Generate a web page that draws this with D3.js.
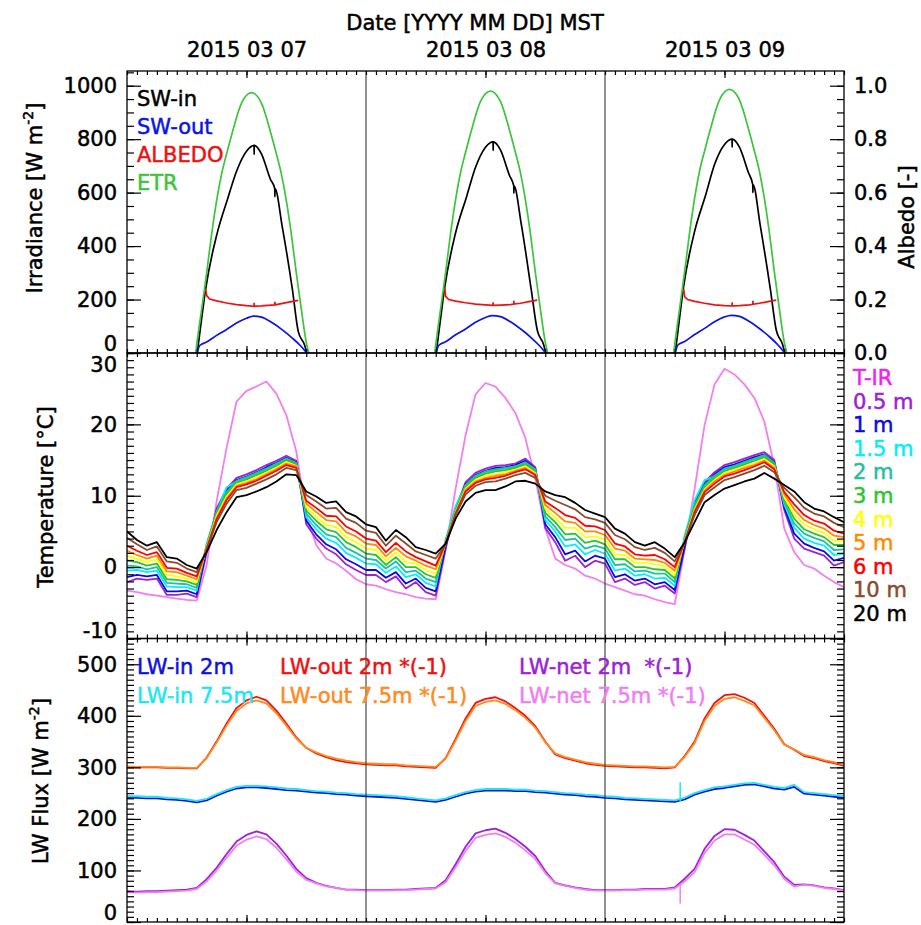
<!DOCTYPE html>
<html>
<head>
<meta charset="utf-8">
<script src="https://cdn.jsdelivr.net/npm/d3@7"></script>
<style>
body { margin: 0; background: #fff; }
svg text { font-family: "DejaVu Sans", sans-serif; font-size: 21px; fill: #000; stroke: #000; stroke-width: 0.5px; }
</style>
</head>
<body>
<div id="chart"></div>
<script>

// ---------- data ----------
let hours = d3.range(0, 73);   // hourly samples, 2015-03-07 00:00 .. 2015-03-10 00:00 MST
let dateLabels = ['2015 03 07', '2015 03 08', '2015 03 09'];

// shortwave (hours of day, one array of values per day)
let etrHours = [6.9, 7.05, 7.5, 8.0, 8.5, 9.0, 9.5, 10.0, 10.5, 11.5, 12.5, 13.5, 14.5, 15.0, 15.5, 16.0, 16.5, 17.0, 17.5, 18.0, 18.25];
let etrDay1 = [0, 45, 165, 300, 445, 570, 670, 745, 815, 935, 974, 935, 815, 745, 670, 570, 445, 300, 165, 40, 0];
let etrDay2 = [0, 45, 167, 303, 449, 575, 676, 751, 821, 941, 980, 941, 821, 751, 676, 575, 449, 303, 167, 41, 0];
let etrDay3 = [0, 46, 168, 305, 452, 579, 681, 756, 826, 947, 986, 947, 826, 756, 681, 579, 452, 305, 168, 41, 0];

let swInHours = [7.05, 7.5, 7.9, 9, 10.1, 11, 12, 12.76, 12.77, 12.78, 13.5, 14.4, 14.84, 14.85, 14.86, 15.6, 16.6, 17.2, 17.85, 18.05];
let swInDay1 = [0, 130, 240, 440, 576, 680, 755, 777, 743, 777, 745, 650, 615, 585, 615, 470, 240, 80, 28, 0];
let swInDay2 = [0, 132, 245, 450, 585, 695, 770, 790, 758, 790, 760, 665, 625, 598, 625, 480, 235, 85, 30, 0];
let swInDay3 = [0, 135, 250, 455, 590, 705, 780, 800, 770, 800, 770, 675, 630, 600, 630, 475, 240, 85, 30, 0];

let swOutHours = [7.05, 7.3, 8, 9, 10, 11, 12, 12.7, 13.5, 14.5, 15.7, 16.6, 17.4, 18.05];
let swOutDay1 = [0, 28, 41, 66, 88, 112, 130, 138, 134, 115, 84, 56, 28, 0];
let swOutDay2 = [0, 28, 42, 68, 90, 115, 133, 140, 136, 117, 85, 57, 28, 0];
let swOutDay3 = [0, 29, 43, 69, 92, 117, 135, 141, 137, 118, 86, 58, 29, 0];

let albHours = [7.9, 8.0, 8.3, 9, 10, 11, 12, 12.76, 12.77, 12.78, 13.5, 14.5, 14.84, 14.85, 14.86, 15.5, 16.5, 17.2];
let albDay1 = [0.24, 0.215, 0.202, 0.195, 0.187, 0.181, 0.177, 0.175, 0.188, 0.175, 0.176, 0.179, 0.18, 0.192, 0.18, 0.185, 0.192, 0.197];
let albDay2 = [0.245, 0.212, 0.2, 0.194, 0.188, 0.183, 0.18, 0.178, 0.19, 0.178, 0.179, 0.181, 0.183, 0.195, 0.183, 0.186, 0.193, 0.198];
let albDay3 = [0.24, 0.21, 0.2, 0.193, 0.186, 0.18, 0.177, 0.176, 0.19, 0.176, 0.177, 0.18, 0.182, 0.195, 0.182, 0.186, 0.193, 0.198];

// temperatures [C], hourly
let tIR = [-3.3, -3.5, -3.8, -4.0, -4.2, -4.4, -4.6, -4.7, 0.3, 9.2, 16.7, 23.2, 24.7, 25.3, 26.0, 24.3, 21.3, 16.2, 7.3, 3.1, 1.2, 0.5, -0.5, -1.7,
  -2.4, -2.6, -3.1, -3.5, -3.8, -4.2, -4.4, -4.5, 2.5, 11.0, 18.5, 24.2, 25.8, 25.3, 23.7, 21.6, 18.1, 12.4, 5.4, 1.2, 0.3, -0.2, -1.2, -1.6,
  -2.3, -2.8, -3.3, -3.8, -4.0, -4.5, -4.9, -5.2, 2.5, 11.0, 19.9, 25.6, 27.8, 27.0, 25.6, 23.7, 20.4, 14.2, 5.4, 2.1, 0.3, -0.2, -1.2, -2.1, -2.8];
let t05 = [-2.1, -1.6, -1.8, -1.6, -3.9, -3.9, -3.7, -4.2, 2.0, 8.2, 11.0, 12.5, 13.0, 13.6, 14.3, 14.9, 15.6, 14.9, 6.0, 4.0, 2.6, 1.8, 0.4, -0.4,
  -1.1, -1.1, -2.1, -1.3, -3.0, -2.1, -3.5, -4.0, 2.6, 8.2, 11.9, 13.2, 13.8, 14.2, 14.3, 14.5, 15.2, 14.0, 5.5, 3.5, 0.9, 1.6, 0.0, 0.9,
  0.5, -2.1, -1.6, -2.5, -2.1, -3.0, -2.6, -3.7, 2.6, 9.1, 11.9, 13.3, 14.3, 14.7, 15.2, 15.7, 16.1, 15.0, 8.0, 4.0, 2.6, 2.1, 1.6, 0.2, 0.7];
let t1 = [-1.4, -1.1, -1.3, -1.1, -3.4, -3.4, -3.3, -3.8, 2.5, 7.9, 10.7, 12.2, 12.7, 13.3, 14.0, 14.6, 15.3, 14.7, 6.5, 4.6, 3.2, 2.5, 1.1, 0.4,
  -0.4, -0.4, -1.5, -0.7, -2.3, -1.6, -2.9, -3.4, 3.0, 8.1, 11.6, 12.9, 13.5, 13.9, 14.0, 14.3, 14.9, 13.8, 6.0, 4.2, 1.8, 2.3, 0.8, 1.6,
  1.2, -1.4, -1.0, -1.9, -1.6, -2.4, -2.1, -3.2, 3.0, 8.8, 11.6, 13.0, 14.0, 14.4, 14.9, 15.4, 15.8, 14.7, 8.4, 4.7, 3.3, 2.7, 2.2, 0.9, 1.3];
let t15 = [-0.5, -0.4, -0.7, -0.5, -2.7, -2.8, -2.8, -3.3, 3.3, 7.7, 11.2, 12.0, 12.5, 13.1, 13.7, 14.4, 15.1, 14.5, 7.0, 5.3, 4.0, 3.4, 2.0, 1.3,
  0.5, 0.4, -0.8, 0.1, -1.4, -1.0, -2.2, -2.7, 3.9, 8.6, 11.4, 12.7, 13.3, 13.6, 13.8, 14.1, 14.6, 13.6, 6.6, 5.0, 2.9, 3.2, 1.8, 2.4,
  1.9, -0.5, -0.2, -1.2, -1.0, -1.6, -1.5, -2.6, 4.4, 9.4, 12.2, 12.7, 13.7, 14.1, 14.6, 15.1, 15.6, 14.5, 8.8, 5.5, 4.0, 3.4, 3.0, 1.7, 1.9];
let t2 = [0.2, 0.1, -0.3, 0.0, -2.2, -2.3, -2.4, -2.9, 3.1, 7.8, 10.5, 12.1, 12.6, 13.2, 13.8, 14.5, 15.2, 14.6, 7.5, 5.9, 4.6, 4.2, 2.7, 2.0,
  1.2, 1.0, -0.2, 0.8, -0.7, -0.5, -1.6, -2.1, 3.7, 8.0, 11.5, 12.8, 13.4, 13.7, 13.9, 14.1, 14.7, 13.7, 7.1, 5.6, 3.8, 4.0, 2.6, 3.0,
  2.6, 0.3, 0.4, -0.6, -0.5, -0.9, -0.9, -2.1, 4.1, 8.7, 11.5, 12.8, 13.8, 14.2, 14.7, 15.2, 15.7, 14.6, 9.1, 6.1, 4.7, 4.1, 3.6, 2.4, 2.5];
let t3 = [0.9, 0.7, 0.2, 0.5, -1.7, -1.8, -2.0, -2.5, 2.9, 7.5, 10.2, 11.8, 12.3, 12.9, 13.5, 14.2, 15.0, 14.4, 7.9, 6.5, 5.3, 4.9, 3.5, 2.8,
  1.9, 1.7, 0.3, 1.4, 0.0, 0.0, -1.0, -1.5, 3.5, 7.9, 11.2, 12.5, 13.1, 13.4, 13.6, 13.9, 14.4, 13.4, 7.6, 6.3, 4.6, 4.7, 3.4, 3.7,
  3.2, 1.1, 1.1, 0.0, 0.0, -0.3, -0.4, -1.6, 3.8, 8.4, 11.2, 12.5, 13.5, 13.9, 14.4, 14.9, 15.4, 14.4, 9.5, 6.8, 5.3, 4.7, 4.2, 3.1, 3.1];
let t4 = [1.6, 1.2, 0.7, 1.1, -1.1, -1.3, -1.6, -2.1, 2.8, 7.2, 9.9, 11.6, 12.0, 12.6, 13.2, 13.9, 14.7, 14.2, 8.4, 7.1, 5.9, 5.6, 4.2, 3.5,
  2.6, 2.4, 0.9, 2.1, 0.7, 0.5, -0.4, -0.9, 3.4, 7.7, 11.0, 12.2, 12.8, 13.0, 13.3, 13.6, 14.1, 13.2, 8.2, 6.9, 5.5, 5.5, 4.2, 4.3,
  3.9, 1.8, 1.7, 0.6, 0.6, 0.4, 0.1, -1.1, 3.7, 8.1, 10.9, 12.2, 13.1, 13.6, 14.1, 14.5, 15.1, 14.1, 9.8, 7.4, 6.0, 5.3, 4.8, 3.7, 3.6];
let t5 = [2.3, 1.7, 1.2, 1.6, -0.6, -0.7, -1.2, -1.7, 2.7, 6.9, 9.6, 11.4, 11.8, 12.3, 13.0, 13.7, 14.5, 14.1, 8.9, 7.7, 6.6, 6.4, 4.9, 4.3,
  3.3, 3.1, 1.5, 2.7, 1.5, 0.9, 0.2, -0.3, 3.4, 7.6, 10.8, 12.0, 12.5, 12.8, 13.0, 13.5, 13.9, 13.0, 8.7, 7.6, 6.4, 6.2, 5.0, 5.0,
  4.5, 2.6, 2.3, 1.2, 1.1, 1.0, 0.6, -0.5, 3.6, 7.9, 10.7, 12.0, 12.9, 13.4, 13.9, 14.3, 14.9, 13.9, 10.2, 8.1, 6.6, 5.9, 5.4, 4.4, 4.2];
let t6 = [3.0, 2.3, 1.7, 2.1, -0.1, -0.2, -0.8, -1.3, 2.6, 6.7, 9.4, 11.2, 11.6, 12.1, 12.8, 13.5, 14.3, 13.9, 9.3, 8.3, 7.2, 7.1, 5.7, 5.0,
  4.0, 3.7, 2.1, 3.4, 2.2, 1.4, 0.8, 0.2, 3.3, 7.5, 10.6, 11.8, 12.3, 12.5, 12.8, 13.3, 13.7, 12.9, 9.2, 8.3, 7.3, 6.9, 5.8, 5.7,
  5.2, 3.3, 2.9, 1.8, 1.6, 1.7, 1.1, 0.0, 3.5, 7.7, 10.5, 11.7, 12.7, 13.1, 13.6, 14.1, 14.7, 13.7, 10.5, 8.8, 7.3, 6.5, 6.1, 5.1, 4.7];
let t10 = [4.1, 3.2, 2.4, 2.9, 0.8, 0.6, -0.2, -0.7, 2.4, 6.3, 8.9, 10.8, 11.1, 11.7, 12.3, 13.0, 13.9, 13.6, 10.1, 9.2, 8.2, 8.3, 6.8, 6.2,
  5.1, 4.8, 3.0, 4.4, 3.3, 2.2, 1.7, 1.2, 3.2, 7.3, 10.2, 11.4, 11.9, 12.0, 12.4, 12.9, 13.2, 12.5, 10.0, 9.3, 8.7, 8.1, 7.0, 6.7,
  6.2, 4.5, 3.9, 2.8, 2.4, 2.7, 2.0, 0.8, 3.4, 7.3, 10.1, 11.2, 12.2, 12.6, 13.1, 13.6, 14.2, 13.3, 11.1, 9.8, 8.3, 7.5, 7.1, 6.2, 5.6];
let t20 = [5.0, 3.8, 3.0, 3.5, 1.4, 1.2, 0.3, -0.2, 2.1, 5.2, 7.7, 9.8, 10.1, 10.6, 11.2, 12.0, 13.0, 12.9, 10.6, 9.9, 9.0, 9.2, 7.7, 7.1,
  6.0, 5.6, 3.7, 5.2, 4.2, 2.8, 2.4, 1.9, 3.3, 6.8, 9.2, 10.4, 10.8, 10.8, 11.3, 12.0, 12.1, 11.7, 10.6, 10.1, 9.8, 9.0, 8.0, 7.5,
  7.0, 5.4, 4.7, 3.5, 3.0, 3.5, 2.6, 1.4, 3.5, 6.3, 9.1, 10.1, 11.0, 11.5, 12.0, 12.4, 13.2, 12.4, 11.5, 10.6, 9.1, 8.2, 7.8, 7.0, 6.3];

// longwave [W m-2], hourly (outgoing and net shown *(-1))
let lwIn2 = [241, 241, 240, 240, 238, 237, 235, 232, 236, 245, 253, 259, 261, 261, 260, 258, 256, 255, 253, 251, 250, 248, 247, 245,
  244, 243, 242, 241, 239, 237, 235, 233, 237, 243, 249, 253, 255, 255, 255, 254, 254, 252, 251, 249, 247, 246, 244, 243,
  241, 240, 238, 237, 236, 235, 234, 233, 238, 247, 253, 258, 260, 263, 266, 267, 263, 259, 257, 262, 249, 247, 245, 243, 241];
let lwIn75 = [244, 244, 243, 243, 241, 240, 238, 235, 239, 248, 256, 262, 264, 264, 263, 261, 259, 258, 256, 254, 253, 251, 250, 248,
  247, 246, 245, 244, 242, 240, 238, 236, 240, 246, 252, 256, 258, 258, 258, 257, 257, 255, 254, 252, 250, 249, 247, 246,
  244, 243, 241, 240, 239, 238, 237, 236, 241, 250, 256, 261, 263, 266, 269, 270, 266, 262, 260, 266, 252, 250, 248, 246, 244];
let lwOut2 = [301, 300, 300, 300, 299, 299, 298, 298, 319, 350, 385, 415, 430, 437, 430, 410, 385, 358, 338, 327, 320, 314, 310, 308,
  306, 305, 304, 304, 302, 301, 300, 299, 318, 355, 395, 425, 433, 436, 428, 415, 400, 380, 350, 325, 318, 313, 308, 305,
  303, 302, 301, 300, 300, 299, 298, 300, 322, 350, 395, 425, 440, 442, 435, 425, 400, 375, 345, 334, 322, 318, 312, 308, 303];
let lwOut75 = [302, 301, 301, 301, 300, 300, 299, 299, 318, 348, 381, 410, 424, 430, 424, 405, 381, 356, 338, 329, 322, 317, 313, 310,
  308, 307, 306, 306, 304, 303, 302, 301, 317, 352, 390, 419, 427, 430, 423, 411, 396, 377, 349, 327, 320, 315, 310, 307,
  305, 304, 303, 302, 302, 301, 300, 301, 320, 347, 390, 419, 433, 436, 429, 420, 396, 372, 344, 335, 324, 320, 314, 310, 305];
let lwNet2 = [60, 59, 60, 60, 61, 62, 63, 66, 83, 105, 132, 156, 169, 176, 170, 152, 129, 103, 85, 76, 70, 66, 63, 63,
  62, 62, 62, 63, 63, 64, 65, 66, 81, 112, 146, 172, 178, 181, 173, 161, 146, 128, 99, 76, 71, 67, 64, 62,
  62, 62, 63, 63, 64, 64, 64, 67, 84, 103, 142, 167, 180, 179, 169, 158, 137, 116, 88, 72, 73, 71, 67, 65, 62];
let lwNet75 = [58, 57, 58, 58, 59, 60, 61, 64, 79, 100, 125, 148, 160, 166, 161, 144, 122, 98, 82, 75, 69, 66, 63, 62,
  61, 61, 61, 62, 62, 63, 64, 65, 77, 106, 138, 163, 169, 172, 165, 154, 139, 122, 95, 75, 70, 66, 63, 61,
  61, 61, 62, 62, 63, 63, 63, 65, 79, 97, 134, 158, 170, 170, 160, 150, 130, 110, 84, 69, 72, 70, 66, 64, 61];
// single-sample spike in the 7.5 m sensors on 03 09 morning
let spikeHour = 55.55;
let spikeLwIn = [233, 271];
let spikeLwNet = [74, 36];

// ---------- layout ----------
let W = 921, H = 925;
let left = 127, right = 844;
let tops = [71, 353, 638.5];
let bottoms = [353, 638.5, 922];

let svg = d3.select('#chart').append('svg')
  .attr('width', W)
  .attr('height', H);

let x = d3.scaleLinear().domain([0, 72]).range([left, right]);
let ySw = d3.scaleLinear().domain([0, 1055]).range([353, 71]);
let yAlb = d3.scaleLinear().domain([0, 1.055]).range([353, 71]);
let yT = d3.scaleLinear().domain([-10, 30]).range([638.5, 353]);
let yLw = d3.scaleLinear().domain([0, 550]).range([922, 638.5]);

// clip paths per panel
let defs = svg.append('defs');
tops.forEach(function(t, i) {
  defs.append('clipPath').attr('id', 'clip' + i)
    .append('rect')
    .attr('x', left).attr('y', t)
    .attr('width', right - left).attr('height', bottoms[i] - t);
});

// ---------- data lines ----------
function plotDay(g, hrs, vals, day, scale, color, curve) {
  let pts = hrs.map(function(h, i) { return [h + 24 * day, vals[i]]; });
  g.append('path')
    .datum(pts)
    .attr('fill', 'none')
    .attr('stroke', color)
    .attr('stroke-width', 1.7)
    .attr('d', d3.line()
      .curve(curve)
      .x(function(d) { return x(d[0]); })
      .y(function(d) { return scale(d[1]); }));
}

function plotHourly(g, vals, scale, color) {
  g.append('path')
    .datum(vals)
    .attr('fill', 'none')
    .attr('stroke', color)
    .attr('stroke-width', 1.8)
    .attr('stroke-linejoin', 'round')
    .attr('d', d3.line()
      .x(function(d, i) { return x(hours[i]); })
      .y(function(d) { return scale(d); }));
}

// top panel
let swGroup = svg.append('g').attr('clip-path', 'url(#clip0)');
[swInDay1, swInDay2, swInDay3].forEach(function(v, d) { plotDay(swGroup, swInHours, v, d, ySw, '#000000', d3.curveMonotoneX); });
[swOutDay1, swOutDay2, swOutDay3].forEach(function(v, d) { plotDay(swGroup, swOutHours, v, d, ySw, '#0a14e6', d3.curveMonotoneX); });
[albDay1, albDay2, albDay3].forEach(function(v, d) { plotDay(swGroup, albHours, v, d, yAlb, '#ee1111', d3.curveLinear); });
[etrDay1, etrDay2, etrDay3].forEach(function(v, d) { plotDay(swGroup, etrHours, v, d, ySw, '#3cc43c', d3.curveMonotoneX); });

// middle panel
let tSeries = [tIR, t05, t1, t15, t2, t3, t4, t5, t6, t10, t20];
let tLineColors = ['#f27ef0', '#9b22d6', '#0a0ae0', '#00f0f8', '#1ec0a0', '#2ec42e', '#ffff00', '#ff8a00', '#ff0000', '#8b4c2c', '#000000'];
let tTextColors = ['#ee22ee', '#9b22d6', '#0a0ae0', '#00f0f8', '#1ec0a0', '#2ec42e', '#ffff00', '#ff8a00', '#ff0000', '#8b4c2c', '#000000'];
let tLabels = ['T-IR', '0.5 m', '1 m', '1.5 m', '2 m', '3 m', '4 m', '5 m', '6 m', '10 m', '20 m'];
let tGroup = svg.append('g').attr('clip-path', 'url(#clip1)');
tSeries.forEach(function(s, i) { plotHourly(tGroup, s, yT, tLineColors[i]); });

// bottom panel
let lwSeries = [lwIn2, lwIn75, lwOut2, lwOut75, lwNet2, lwNet75];
let lwColors = ['#1010dd', '#1ee6f0', '#ee1111', '#ff8a1e', '#9b22d6', '#f07ef0'];
let lwLabels = ['LW-in 2m', 'LW-in 7.5m', 'LW-out 2m *(-1)', 'LW-out 7.5m *(-1)', 'LW-net 2m  *(-1)', 'LW-net 7.5m *(-1)'];
let lwGroup = svg.append('g').attr('clip-path', 'url(#clip2)');
lwSeries.forEach(function(s, i) { plotHourly(lwGroup, s, yLw, lwColors[i]); });
[[spikeLwIn, lwColors[1]], [spikeLwNet, lwColors[5]]].forEach(function(p) {
  lwGroup.append('line')
    .attr('x1', x(spikeHour)).attr('x2', x(spikeHour))
    .attr('y1', yLw(p[0][0])).attr('y2', yLw(p[0][1]))
    .attr('stroke', p[1]).attr('stroke-width', 1.5);
});

// ---------- frames and axes ----------
let hourTicks = d3.range(0, 73);
let noonTicks = [12, 36, 60];

// midnight separators through all panels
svg.selectAll('.daysep')
  .data([24, 48])
  .enter()
  .append('line')
    .attr('x1', function(d) { return x(d); })
    .attr('x2', function(d) { return x(d); })
    .attr('y1', tops[0])
    .attr('y2', bottoms[2])
    .attr('stroke', '#222')
    .attr('stroke-width', 1);

function tickOnly(g) {
  g.select('.domain').remove();
  g.selectAll('line').attr('stroke-width', 1.2);
}

tops.forEach(function(t, i) {
  let b = bottoms[i];
  // frame
  svg.append('rect')
    .attr('x', left).attr('y', t)
    .attr('width', right - left).attr('height', b - t)
    .attr('fill', 'none').attr('stroke', '#000').attr('stroke-width', 1.3);
  // x ticks, top (pointing down) and bottom (pointing up)
  svg.append('g').attr('transform', 'translate(0,' + t + ')')
    .call(d3.axisBottom(x).tickValues(hourTicks).tickSize(4).tickFormat('')).call(tickOnly);
  svg.append('g').attr('transform', 'translate(0,' + t + ')')
    .call(d3.axisBottom(x).tickValues(noonTicks).tickSize(7).tickFormat('')).call(tickOnly);
  svg.append('g').attr('transform', 'translate(0,' + b + ')')
    .call(d3.axisTop(x).tickValues(hourTicks).tickSize(4).tickFormat('')).call(tickOnly);
  svg.append('g').attr('transform', 'translate(0,' + b + ')')
    .call(d3.axisTop(x).tickValues(noonTicks).tickSize(7).tickFormat('')).call(tickOnly);
});

// date labels above the top panel
svg.append('g').attr('transform', 'translate(0,' + tops[0] + ')')
  .call(d3.axisTop(x).tickValues(noonTicks).tickSize(0).tickPadding(14)
    .tickFormat(function(d, i) { return dateLabels[i]; }))
  .call(function(g) { g.select('.domain').remove(); });

// y axes: minor ticks, major ticks with labels (left), mirrored ticks (right)
function yAxis(scale, major, minor, fmt, side, showLabels, shifts) {
  let xPos = side === 'left' ? left : right;
  let make = side === 'left' ? d3.axisLeft : d3.axisRight;
  svg.append('g').attr('transform', 'translate(' + xPos + ',0)')
    .call(make(scale).tickValues(minor).tickSize(-7).tickFormat('')).call(tickOnly);
  let g = svg.append('g').attr('transform', 'translate(' + xPos + ',0)')
    .call(make(scale).tickValues(major).tickSize(-14).tickPadding(10)
      .tickFormat(showLabels ? fmt : ''))
    .call(tickOnly);
  if (shifts) {
    g.selectAll('text').attr('y', function(d) { return shifts[d] || 0; });
  }
}

let intFmt = function(d) { return String(d); };
yAxis(ySw, d3.range(0, 1001, 200), d3.range(0, 1051, 50), intFmt, 'left', true, {0: -9});
yAxis(yAlb, [0, 0.2, 0.4, 0.6, 0.8, 1.0], d3.range(0, 21).map(function(i) { return i * 0.05; }), d3.format('.1f'), 'right', true, null);
yAxis(yT, d3.range(-10, 31, 10), d3.range(-10, 31, 1), intFmt, 'left', true, {'30': 12, '-10': -8});
yAxis(yT, d3.range(-10, 31, 10), d3.range(-10, 31, 1), intFmt, 'right', false, null);
yAxis(yLw, d3.range(0, 501, 100), d3.range(0, 551, 10), intFmt, 'left', true, {0: -9});
yAxis(yLw, d3.range(0, 501, 100), d3.range(0, 551, 10), intFmt, 'right', false, null);

// ---------- titles ----------
svg.append('text')
  .attr('x', 475).attr('y', 30)
  .attr('text-anchor', 'middle')
  .text('Date [YYYY MM DD] MST');

function yTitle(tx, ty, main, sup, after) {
  let t = svg.append('text')
    .attr('transform', 'translate(' + tx + ',' + ty + ') rotate(-90)')
    .attr('text-anchor', 'middle');
  t.append('tspan').text(main);
  if (sup) {
    t.append('tspan').attr('dy', -9).style('font-size', '14px').text(sup);
    t.append('tspan').attr('dy', 9).text(after);
  }
}
yTitle(42, 198, 'Irradiance [W m', '-2', ']');
yTitle(53, 497, 'Temperature [°C]');
yTitle(48, 781, 'LW Flux [W m', '-2', ']');
yTitle(914, 217, 'Albedo [-]');

// ---------- legends ----------
let swLabels = ['SW-in', 'SW-out', 'ALBEDO', 'ETR'];
let swColors = ['#000000', '#0a14e6', '#ee1111', '#3cc43c'];
svg.selectAll('.swleg')
  .data(swLabels)
  .enter()
  .append('text')
    .attr('x', 137)
    .attr('y', function(d, i) { return 106 + i * 28; })
    .style('fill', function(d, i) { return swColors[i]; })
    .style('stroke', function(d, i) { return swColors[i]; })
    .text(function(d) { return d; });

svg.selectAll('.tleg')
  .data(tLabels)
  .enter()
  .append('text')
    .attr('x', 853)
    .attr('y', function(d, i) { return 385 + i * 23.6; })
    .style('fill', function(d, i) { return tTextColors[i]; })
    .style('stroke', function(d, i) { return tTextColors[i]; })
    .text(function(d) { return d; });

let lwLegX = [137, 280, 519];
svg.selectAll('.lwleg')
  .data(lwLabels)
  .enter()
  .append('text')
    .attr('x', function(d, i) { return lwLegX[Math.floor(i / 2)]; })
    .attr('y', function(d, i) { return i % 2 === 0 ? 674 : 703; })
    .style('fill', function(d, i) { return lwColors[i]; })
    .style('stroke', function(d, i) { return lwColors[i]; })
    .style('white-space', 'pre')
    .text(function(d) { return d; });

</script>
</body>
</html>
